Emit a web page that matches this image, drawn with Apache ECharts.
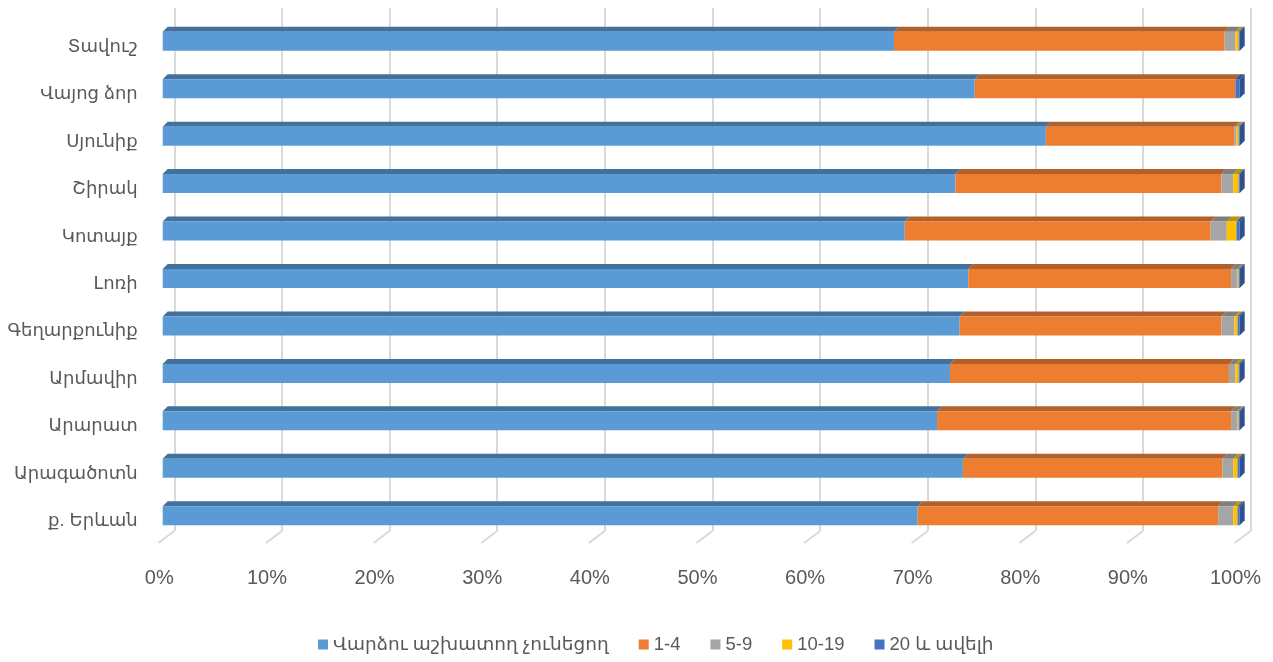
<!DOCTYPE html>
<html>
<head>
<meta charset="utf-8">
<script src="https://cdn.jsdelivr.net/npm/echarts@6/dist/echarts.min.js"></script>
<style>
  html, body { margin: 0; padding: 0; background: #fff; }
  #chart { width: 1273px; height: 662px; }
</style>
</head>
<body>
<div id="chart"></div>
<script>
// regions, bottom to top (Excel order)
const regions = ['ք. Երևան', 'Արագածոտն', 'Արարատ', 'Արմավիր', 'Գեղարքունիք', 'Լոռի', 'Կոտայք', 'Շիրակ', 'Սյունիք', 'Վայոց ձոր', 'Տավուշ']
const seriesNames = ['Վարձու աշխատող չունեցող', '1-4', '5-9', '10-19', '20 և ավելի']

// shares, %
const noStaff = [70.1, 74.3, 71.9, 73.1, 74.0, 74.8, 68.9, 73.6, 82.0, 75.4, 67.9]
const staff1to4 = [27.9, 24.1, 27.3, 25.9, 24.3, 24.4, 28.4, 24.7, 17.5, 24.2, 30.7]
const staff5to9 = [1.4, 1.0, 0.6, 0.6, 1.2, 0.6, 1.5, 1.1, 0.2, 0.0, 1.0]
const staff10to19 = [0.4, 0.4, 0.1, 0.3, 0.3, 0.1, 0.9, 0.5, 0.2, 0.0, 0.3]
const staff20plus = [0.2, 0.2, 0.1, 0.1, 0.2, 0.1, 0.3, 0.1, 0.1, 0.4, 0.1]

const tickValues = [0, 10, 20, 30, 40, 50, 60, 70, 80, 90, 100]

const frontColors = ['#5B9BD5', '#ED7D31', '#A5A5A5', '#FFC000', '#4472C4']
const topColors = ['#41719C', '#B2612A', '#7E7E7E', '#BF9000', '#2F528F']

const allSeries = [noStaff, staff1to4, staff5to9, staff10to19, staff20plus]
const DX = 5, DY = -5
const FONT = "'Liberation Sans', 'DejaVu Sans', sans-serif"

const chart = echarts.init(document.getElementById('chart'))

const barSeries = allSeries.map((vals, k) => {
  const data = vals.map((v, i) => {
    let start = 0
    for (let j = 0; j < k; j++) start += allSeries[j][i]
    return [start, start + v, i]
  })
  return {
    name: seriesNames[k],
    type: 'custom',
    xAxisIndex: 1,
    yAxisIndex: 1,
    itemStyle: { color: frontColors[k] },
    encode: { x: [0, 1], y: 2 },
    data,
    renderItem: (params, api) => {
      const p0 = api.coord([api.value(0), api.value(2)])
      const p1 = api.coord([api.value(1), api.value(2)])
      const h = api.size([0, 1])[1] * 0.4
      const top = p0[1] - h / 2
      const bottom = p0[1] + h / 2
      const children = []
      if (p1[0] - p0[0] > 0.01) {
        children.push({
          type: 'polygon',
          shape: { points: [[p0[0], top], [p1[0], top], [p1[0] + DX, top + DY], [p0[0] + DX, top + DY]] },
          style: { fill: topColors[k] }
        })
        children.push({
          type: 'rect',
          shape: { x: p0[0], y: top, width: p1[0] - p0[0], height: h },
          style: { fill: frontColors[k] }
        })
      }
      if (k === allSeries.length - 1) {
        children.push({
          type: 'polygon',
          shape: { points: [[p1[0], top], [p1[0] + DX, top + DY], [p1[0] + DX, bottom + DY], [p1[0], bottom]] },
          style: { fill: topColors[k] }
        })
      }
      return { type: 'group', children }
    }
  }
})

// floor diagonals under the back wall
const floorSeries = {
  type: 'custom',
  xAxisIndex: 0,
  yAxisIndex: 0,
  silent: true,
  data: tickValues.map(v => [v, 0]),
  renderItem: (params, api) => {
    const p = api.coord([api.value(0), api.value(1)])
    return {
      type: 'line',
      shape: { x1: p[0], y1: p[1], x2: p[0] - 16, y2: p[1] + 12 },
      style: { stroke: '#D9D9D9', lineWidth: 2 }
    }
  }
}

chart.setOption({
  animation: false,
  textStyle: { fontFamily: FONT, color: '#595959' },
  legend: {
    bottom: 3,
    left: 313,
    itemWidth: 10,
    itemHeight: 10,
    itemGap: 30,
    icon: 'rect',
    data: seriesNames,
    textStyle: { fontSize: 18.5, color: '#595959', fontFamily: FONT }
  },
  grid: [
    { left: 174.3, right: 22.5, top: 8, bottom: 131 },
    { left: 162.7, right: 33.3, top: 17.5, bottom: 122.5 }
  ],
  xAxis: [
    {
      gridIndex: 0,
      type: 'value',
      min: 0,
      max: 100,
      interval: 10,
      axisLine: { show: false },
      axisTick: { show: false },
      splitLine: { show: true, lineStyle: { color: '#D9D9D9', width: 2 } },
      axisLabel: {
        formatter: '{value}%',
        fontSize: 20,
        color: '#595959',
        margin: 37,
        padding: [0, 30, 0, 0]
      }
    },
    {
      gridIndex: 1,
      type: 'value',
      min: 0,
      max: 100,
      show: false
    }
  ],
  yAxis: [
    { gridIndex: 0, type: 'value', min: 0, max: 1, show: false },
    {
      gridIndex: 1,
      type: 'category',
      data: regions,
      axisLine: { show: false },
      axisTick: { show: false },
      axisLabel: {
        margin: 25,
        formatter: '{r|{value}}',
        rich: {
          r: { fontSize: 18, color: '#595959', fontFamily: FONT, padding: [11, 0, 0, 0] }
        }
      }
    }
  ],
  series: [floorSeries, ...barSeries]
})
</script>
</body>
</html>
